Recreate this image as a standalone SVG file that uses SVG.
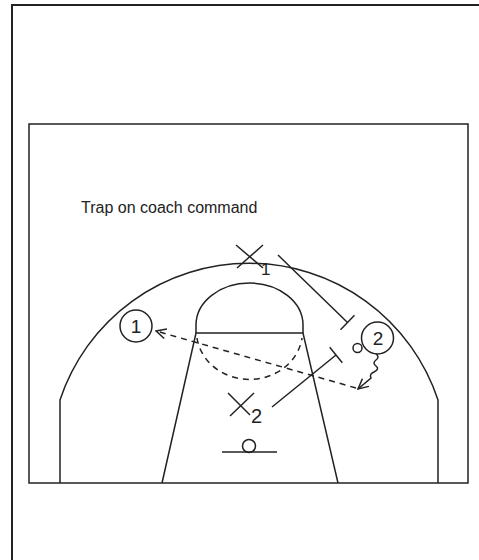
<svg xmlns="http://www.w3.org/2000/svg" width="479" height="560" viewBox="0 0 479 560">
<style>
.ln{fill:none;stroke:#222;stroke-width:1.5}
.dash{fill:none;stroke:#222;stroke-width:1.5;stroke-dasharray:6 5}
.txt{font-family:"Liberation Sans",Arial,sans-serif;fill:#222}
</style>
<defs>
<marker id="arr" viewBox="0 0 12 12" refX="11" refY="6" markerWidth="12" markerHeight="12" markerUnits="userSpaceOnUse" orient="auto">
<path d="M1,1 L11,6 L1,11" fill="none" stroke="#222" stroke-width="1.5"/>
</marker>
</defs>
<rect width="479" height="560" fill="#fff"/>
<g id="frame">
<path d="M12,560 V5 H479" fill="none" stroke="#222" stroke-width="2"/>
</g>
<g id="court">
<rect x="29" y="124" width="439" height="359" class="ln"/>
<path d="M60,483 V400 A199,199 0 0 1 438,400 V483" class="ln"/>
<path d="M162,483 L196,333 H303 L338,483" class="ln"/>
<path d="M196,333 V325 A53.5,42 0 0 1 303,325 V333" class="ln"/>
<line x1="222" y1="452" x2="277" y2="452" class="ln"/>
<circle cx="249" cy="446" r="6.5" class="ln"/>
</g>
<text class="txt" x="81" y="213" font-size="16">Trap on coach command</text>
<g id="X1">
<path d="M236,245 L263,268 M263,245 L237,268" class="ln"/>
<text class="txt" x="261" y="275" font-size="17">1</text>
</g>
<g id="X2">
<path d="M228,393 L250,415 M254,393 L230,416" class="ln"/>
<text class="txt" x="251" y="423" font-size="20">2</text>
</g>
<g id="O1">
<circle cx="136" cy="326" r="16" class="ln"/>
<text class="txt" x="136" y="333" font-size="19" text-anchor="middle">1</text>
</g>
<g id="O2">
<circle cx="377.5" cy="338" r="16" class="ln"/>
<text class="txt" x="378" y="345" font-size="19" text-anchor="middle">2</text>
<circle cx="357.5" cy="348" r="4.5" class="ln"/>
</g>
<g id="connectors">
<path d="M278,255 L347.5,322.5 M354.5,315.3 L340.5,329.7" class="ln"/>
<path d="M272,407 L336,355 M329.7,347.2 L342.3,362.8" class="ln"/>
<path d="M356,388 L156,331" class="dash" marker-end="url(#arr)"/>
<path d="M197,338 A53,48 0 0 0 302,338" class="dash"/>
<path d="M376,354 q4,3 0,6 q-4,3 0,6 q4,3 -2,6 q-5,2 -3,6 L358,389" class="ln" marker-end="url(#arr)"/>
</g>
</svg>
